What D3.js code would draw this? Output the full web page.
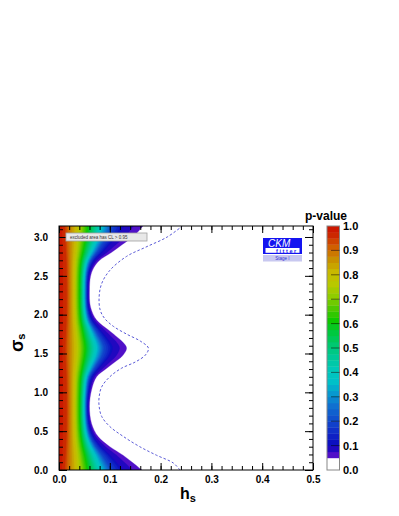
<!DOCTYPE html>
<html><head><meta charset="utf-8">
<script src="https://cdn.jsdelivr.net/npm/d3@7/dist/d3.min.js"></script>
<style>body{margin:0;background:#fff}svg{display:block}text{font-family:"Liberation Sans",Arial,Helvetica,sans-serif}</style>
</head><body><svg id="c" width="399" height="516"></svg>
<script>
// ---- data ----
// CL = 0.95 boundary (p = 0.05) of the coloured region: sigma_s -> h_s
const edgeSigma = [0, 0.09, 0.19, 0.30, 0.43, 0.60, 0.82, 1.03, 1.20, 1.31, 1.39, 1.47, 1.57, 1.65, 1.73, 1.80, 1.93, 2.10, 2.32, 2.49, 2.60, 2.70, 2.80, 2.90, 3.03, Math.PI];
const edgeH     = [0.163, 0.146, 0.126, 0.100, 0.077, 0.064, 0.060, 0.064, 0.074, 0.094, 0.110, 0.125, 0.133, 0.125, 0.111, 0.098, 0.074, 0.062, 0.060, 0.062, 0.068, 0.080, 0.103, 0.124, 0.150, 0.165];
// dashed contour
const dashSigma = [0, 0.09, 0.19, 0.30, 0.43, 0.56, 0.69, 0.82, 0.94, 1.07, 1.20, 1.31, 1.39, 1.48, 1.57, 1.66, 1.75, 1.85, 1.95, 2.06, 2.23, 2.40, 2.57, 2.75, 2.87, 3.00, Math.PI];
const dashH     = [0.238, 0.225, 0.192, 0.159, 0.127, 0.100, 0.084, 0.079, 0.079, 0.084, 0.100, 0.123, 0.150, 0.170, 0.176, 0.160, 0.133, 0.107, 0.090, 0.081, 0.079, 0.084, 0.100, 0.133, 0.171, 0.213, 0.243];
// p-value profile across the allowed band, as fraction of the boundary h,
// read where the boundary is widest (h = 0.163) and narrowest (h = 0.060)
const profileP      = [1.0, 0.95, 0.9, 0.8, 0.7, 0.6, 0.5, 0.4, 0.3, 0.2, 0.1, 0.05];
const profileWide   = [0.0, 0.07, 0.11, 0.21, 0.28, 0.35, 0.42, 0.49, 0.56, 0.63, 0.77, 1.0];
const profileNarrow = [0.0, 0.25, 0.33, 0.48, 0.58, 0.68, 0.75, 0.80, 0.85, 0.89, 0.94, 1.0];
const edgeWide = 0.163, edgeNarrow = 0.060;
// palette
const paletteP = [0.05, 0.075, 0.1, 0.15, 0.2, 0.25, 0.3, 0.35, 0.4, 0.45, 0.5, 0.55, 0.6, 0.65, 0.7, 0.75, 0.8, 0.85, 0.9, 0.95, 1.0];
const paletteC = ["#5010c8", "#2008c0", "#0c10c0", "#1030c8", "#1050cc", "#1070d0", "#0898d0", "#00c0c8", "#00c8b8", "#00c898", "#00c870", "#00c840", "#10c800", "#50c800", "#90cc00", "#b8c800", "#c8b800", "#c89000", "#d06000", "#cc2800", "#cc0800"];
const xTicks = [0.0, 0.1, 0.2, 0.3, 0.4, 0.5];
const yTicks = [0.0, 0.5, 1.0, 1.5, 2.0, 2.5, 3.0];
const zTicks = [0.0, 0.1, 0.2, 0.3, 0.4, 0.5, 0.6, 0.7, 0.8, 0.9, 1.0];

// ---- layout ----
const L = 59, R = 313, T = 226, B = 470;
const svg = d3.select("#c");
const x = d3.scaleLinear().domain([0, 0.5]).range([L, R]);
const y = d3.scaleLinear().domain([0, Math.PI]).range([B, T]);
const z = d3.scaleLinear().domain([0, 1]).range([B, T]);
const color = d3.scaleLinear().domain(paletteP).range(paletteC).clamp(true);
const fWide = d3.scaleLinear().domain(profileP).range(profileWide);
const fNarrow = d3.scaleLinear().domain(profileP).range(profileNarrow);
const levels = d3.range(0.05, 0.999, 0.025);

svg.append("clipPath").attr("id", "clip").append("rect")
  .attr("x", L).attr("y", T).attr("width", R - L).attr("height", B - T);
const plot = svg.append("g").attr("clip-path", "url(#clip)");

const edgePts = edgeSigma.map((s, i) => ({s, h: edgeH[i]}));
// contour position of level p where the boundary sits at e
function contourH(p, e) {
  const hN = fNarrow(p) * edgeNarrow, hW = fWide(p) * edgeWide;
  const t = (e - edgeNarrow) / (edgeWide - edgeNarrow);
  return Math.min(e, hN + t * (hW - hN));
}
const area = d3.area().curve(d3.curveCatmullRom.alpha(0.5))
  .y(d => y(d.s)).x0(x(0)).x1(d => x(d.h));
levels.forEach(p => {
  const pts = edgePts.map(d => ({s: d.s, h: contourH(p, d.h)}));
  plot.append("path").attr("d", area(pts)).attr("fill", color(p)).attr("stroke", color(p)).attr("stroke-width", 0.3);
});
// dashed contour
const line = d3.line().curve(d3.curveCatmullRom.alpha(0.5)).x(d => x(d.h)).y(d => y(d.s));
plot.append("path").attr("d", line(dashSigma.map((s, i) => ({s, h: dashH[i]}))))
  .attr("fill", "none").attr("stroke", "#5a5ad8").attr("stroke-width", 1).attr("stroke-dasharray", "2.5,2");

// ---- axes ----
const fmt = d3.format(".1f");
const xMinor = d3.range(0, 0.5001, 0.02);
const yMinor = d3.range(0, Math.PI, 0.1);
function styleAxis(g) { g.select(".domain").remove(); g.selectAll("line").attr("stroke", "#000"); }
svg.append("g").attr("transform", `translate(0,${B})`).call(d3.axisBottom(x).tickValues(xMinor).tickSize(-4).tickFormat("")).call(styleAxis);
svg.append("g").attr("transform", `translate(0,${T})`).call(d3.axisTop(x).tickValues(xMinor).tickSize(-4).tickFormat("")).call(styleAxis);
svg.append("g").attr("transform", `translate(0,${B})`).call(d3.axisBottom(x).tickValues(xTicks).tickSize(-7).tickPadding(13).tickFormat(fmt)).call(styleAxis)
  .selectAll("text").attr("font-size", 10).attr("font-weight", "bold").attr("fill", "#000").attr("dy", "0");
svg.append("g").attr("transform", `translate(0,${T})`).call(d3.axisTop(x).tickValues(xTicks).tickSize(-7).tickFormat("")).call(styleAxis);
svg.append("g").attr("transform", `translate(${L},0)`).call(d3.axisLeft(y).tickValues(yMinor).tickSize(-4).tickFormat("")).call(styleAxis);
svg.append("g").attr("transform", `translate(${R},0)`).call(d3.axisRight(y).tickValues(yMinor).tickSize(-4).tickFormat("")).call(styleAxis);
svg.append("g").attr("transform", `translate(${L},0)`).call(d3.axisLeft(y).tickValues(yTicks).tickSize(-8).tickPadding(11).tickFormat(fmt)).call(styleAxis)
  .selectAll("text").attr("font-size", 10).attr("font-weight", "bold").attr("fill", "#000");
svg.append("g").attr("transform", `translate(${R},0)`).call(d3.axisRight(y).tickValues(yTicks).tickSize(-8).tickFormat("")).call(styleAxis);
svg.append("rect").attr("x", L).attr("y", T).attr("width", R - L).attr("height", B - T)
  .attr("fill", "none").attr("stroke", "#000").attr("stroke-width", 1);

// axis titles
const xt = svg.append("text").attr("x", 180).attr("y", 499).attr("font-weight", "bold").attr("fill", "#000");
xt.append("tspan").attr("font-size", 16).text("h");
xt.append("tspan").attr("font-size", 11).attr("dy", 3).text("s");
const yt = svg.append("text").attr("transform", "translate(23,352) rotate(-90)").attr("font-weight", "bold").attr("fill", "#000");
yt.append("tspan").attr("font-size", 18).text("σ");
yt.append("tspan").attr("font-size", 11).attr("dy", 2).text("s");

// legend box
svg.append("rect").attr("x", 66).attr("y", 233).attr("width", 81).attr("height", 8)
  .attr("fill", "#e8e8e8").attr("stroke", "#a0a0a0").attr("stroke-width", 0.8);
svg.append("text").attr("x", 70).attr("y", 239).attr("font-size", 4.5).attr("fill", "#333")
  .text("excluded area has CL > 0.95");

// CKMfitter logo
svg.append("rect").attr("x", 263).attr("y", 238).attr("width", 39).attr("height", 16).attr("fill", "#1414f0");
svg.append("rect").attr("x", 265.5).attr("y", 248).attr("width", 34).attr("height", 4.8).attr("fill", "#fff");
svg.append("text").attr("x", 268).attr("y", 246.8).attr("font-size", 10).attr("font-style", "italic")
  .attr("fill", "#fff").text("CKM");
svg.append("text").attr("x", 276).attr("y", 252.6).attr("font-size", 5.5).attr("font-weight", "bold")
  .attr("letter-spacing", 1.6).attr("fill", "#1414f0").text("fitter");
svg.append("rect").attr("x", 263).attr("y", 255).attr("width", 39).attr("height", 6.5).attr("fill", "#c8c8f0");
svg.append("text").attr("x", 282.5).attr("y", 260.3).attr("text-anchor", "middle").attr("font-size", 4.5)
  .attr("fill", "#3030d0").text("Stage I");

// ---- colour bar ----
const CX = 327, CW = 12.5;
const cb = svg.append("g");
cb.append("rect").attr("x", CX).attr("y", z(0.05)).attr("width", CW).attr("height", z(0) - z(0.05)).attr("fill", "#fff");
levels.forEach(p => {
  cb.append("rect").attr("x", CX).attr("y", z(p + 0.025)).attr("width", CW)
    .attr("height", z(p) - z(p + 0.025) + 0.4).attr("fill", color(p));
});
cb.append("rect").attr("x", CX).attr("y", T).attr("width", CW).attr("height", B - T)
  .attr("fill", "none").attr("stroke", "#888").attr("stroke-width", 1);
zTicks.forEach(t => {
  if (t > 0 && t < 1) cb.append("line").attr("x1", CX + 4).attr("x2", CX + CW).attr("y1", z(t)).attr("y2", z(t))
    .attr("stroke", "#000").attr("stroke-opacity", 0.5).attr("stroke-width", 1);
  cb.append("text").attr("x", 343).attr("y", z(t)).attr("dy", "0.36em").attr("font-size", 11)
    .attr("font-weight", "bold").attr("fill", "#000").text(fmt(t));
});
svg.append("text").attr("x", 326).attr("y", 220).attr("text-anchor", "middle").attr("font-size", 12)
  .attr("font-weight", "bold").attr("fill", "#000").text("p-value");
</script></body></html>
